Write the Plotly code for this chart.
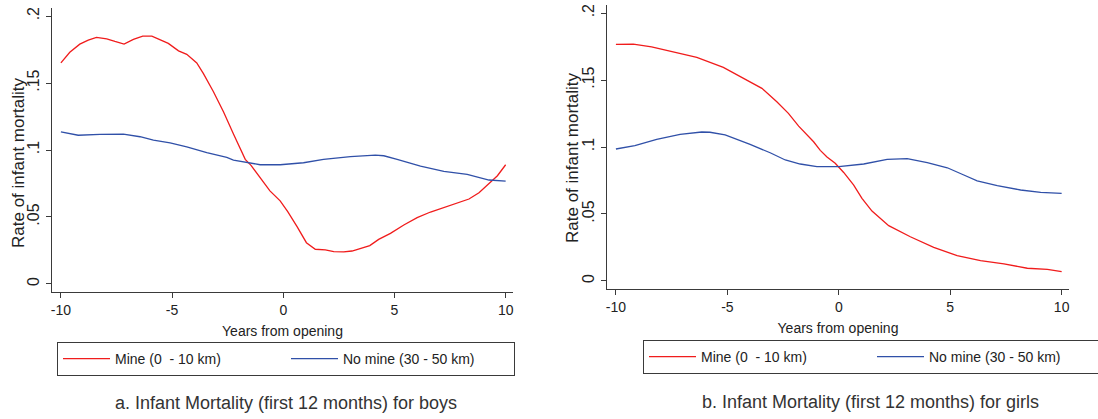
import plotly.graph_objects as go

# ---- data ----
boys_mine_x = [-10, -9.6, -9.15, -8.77, -8.4, -7.94, -7.57, -7.16, -6.74, -6.32, -5.91, -5.54, -5.17, -4.71,
               -4.34, -3.89, -3.59, -3.14, -2.69, -2.24, -1.94, -1.71, -1.45, -1.1, -0.6, -0.14, 0.2, 0.62,
               1.04, 1.44, 1.89, 2.27, 2.72, 3.09, 3.47, 3.89, 4.29, 4.82, 5.42, 6.02, 6.62, 7.22, 7.82,
               8.35, 8.8, 9.17, 9.63, 10]
boys_mine_y = [0.165, 0.173, 0.179, 0.182, 0.184, 0.183, 0.181, 0.179, 0.1826, 0.185, 0.185, 0.1826, 0.1796,
               0.174, 0.1714, 0.165, 0.157, 0.1435, 0.1286, 0.112, 0.101, 0.093, 0.0885, 0.081, 0.0695,
               0.062, 0.054, 0.0428, 0.0308, 0.0259, 0.0254, 0.0241, 0.0239, 0.0246, 0.0263, 0.0286,
               0.0333, 0.0378, 0.044, 0.0495, 0.0537, 0.0572, 0.0602, 0.0634, 0.0681, 0.0736, 0.0808, 0.089]

boys_nomine_x = [-10, -9.22, -8.24, -7.19, -6.44, -5.84, -5.09, -4.34, -3.44, -2.54, -2.24, -1.64, -1.04,
                 -0.14, 0.91, 1.81, 3.02, 4.14, 4.52, 5.12, 6.17, 7.22, 8.27, 9.25, 10]
boys_nomine_y = [0.1136, 0.111, 0.1117, 0.1119, 0.1099, 0.1074, 0.1054, 0.1024, 0.098, 0.0945, 0.0925,
                 0.0905, 0.089, 0.089, 0.0905, 0.093, 0.095, 0.0962, 0.0957, 0.093, 0.088, 0.084, 0.0818,
                 0.0776, 0.0768]

girls_mine_x = [-10, -9.22, -8.4, -7.42, -6.37, -5.18, -4.28, -3.45, -2.78, -2.26, -1.8, -1.13, -0.83, -0.53,
                -0.16, 0.22, 0.67, 1.04, 1.49, 2.24, 3.21, 4.26, 5.31, 6.36, 7.41, 8.46, 9.36, 10]
girls_mine_y = [0.1766, 0.1768, 0.1748, 0.171, 0.1669, 0.1594, 0.1512, 0.1438, 0.1338, 0.1251, 0.1156,
                0.1039, 0.0975, 0.0925, 0.0878, 0.081, 0.0716, 0.0617, 0.0522, 0.0413, 0.033, 0.0251,
                0.0189, 0.0151, 0.0127, 0.0095, 0.0087, 0.0069]

girls_nomine_x = [-10, -9.15, -8.17, -7.12, -6.15, -5.78, -5.1, -3.98, -3.08, -2.4, -1.73, -0.98, 0, 1.12,
                  2.17, 3.07, 3.97, 4.87, 5.61, 6.21, 7.11, 8.16, 9.06, 10]
girls_nomine_y = [0.0985, 0.101, 0.1057, 0.1094, 0.1112, 0.111, 0.109, 0.102, 0.0957, 0.0903, 0.0873,
                  0.0853, 0.0853, 0.0873, 0.0908, 0.0913, 0.0883, 0.0845, 0.0791, 0.0748, 0.0711, 0.0679,
                  0.0662, 0.0654]

y_tickvals = [0, 0.05, 0.1, 0.15, 0.2]
y_ticktext = ["0", ".05", ".1", ".15", ".2"]
x_tickvals = [-10, -5, 0, 5, 10]
x_ticktext = ["-10", "-5", "0", "5", "10"]

series_names = ["Mine (0  - 10 km)", "No mine (30 - 50 km)"]
x_title = "Years from opening"
y_title = "Rate of infant mortality"
captions = ["a. Infant Mortality (first 12 months) for boys",
            "b. Infant Mortality (first 12 months) for girls"]

RED = "#f01c1c"
BLUE = "#3050a8"
AX = "#3a3a3a"
TXT = "#222222"
FONT = "Arial, Liberation Sans, sans-serif"
W, H = 1098, 419

fig = go.Figure()

fig.add_trace(go.Scatter(x=boys_mine_x, y=boys_mine_y, mode="lines", name=series_names[0],
                         line=dict(color=RED, width=1.3), xaxis="x", yaxis="y", legend="legend"))
fig.add_trace(go.Scatter(x=boys_nomine_x, y=boys_nomine_y, mode="lines", name=series_names[1],
                         line=dict(color=BLUE, width=1.3), xaxis="x", yaxis="y", legend="legend"))
fig.add_trace(go.Scatter(x=girls_mine_x, y=girls_mine_y, mode="lines", name=series_names[0],
                         line=dict(color=RED, width=1.3), xaxis="x2", yaxis="y2", legend="legend2"))
fig.add_trace(go.Scatter(x=girls_nomine_x, y=girls_nomine_y, mode="lines", name=series_names[1],
                         line=dict(color=BLUE, width=1.3), xaxis="x2", yaxis="y2", legend="legend2"))

def xax(domain, anchor):
    return dict(domain=domain, anchor=anchor, range=[-10.4, 10.33], tickvals=x_tickvals, ticktext=x_ticktext,
                ticks="outside", ticklen=5, tickwidth=1.3, tickcolor=AX, showline=True, linecolor=AX,
                linewidth=1.3, showgrid=False, zeroline=False, tickfont=dict(size=14, color=TXT),
                title=dict(text=x_title, font=dict(size=14, color=TXT), standoff=9))

def yax(domain, anchor):
    return dict(domain=domain, anchor=anchor, range=[-0.006, 0.206], tickvals=y_tickvals, ticktext=y_ticktext,
                ticks="outside", ticklen=5, tickwidth=1.3, tickcolor=AX, showline=True, linecolor=AX,
                linewidth=1.3, showgrid=False, zeroline=False, tickangle=-90,
                tickfont=dict(size=16, color=TXT))

legend_common = dict(orientation="h", xanchor="left", yanchor="top", bordercolor=AX, borderwidth=1,
                     font=dict(size=14, color=TXT), entrywidth=166, itemwidth=47, bgcolor="white")

fig.update_layout(
    width=W, height=H,
    margin=dict(l=0, r=0, t=0, b=0, autoexpand=False),
    paper_bgcolor="white", plot_bgcolor="white",
    font=dict(family=FONT, color=TXT),
    xaxis=xax([52 / W, 513 / W], "y"),
    yaxis=yax([1 - 292 / H, 1 - 8 / H], "x"),
    xaxis2=xax([607 / W, 1069 / W], "y2"),
    yaxis2=yax([1 - 289 / H, 1 - 5 / H], "x2"),
    legend=dict(x=57 / W, y=1 - 342 / H, **legend_common),
    legend2=dict(x=643 / W, y=1 - 340 / H, **legend_common),
    showlegend=True,
)

fig.add_annotation(text=y_title, textangle=-90, x=18 / W, y=1 - 163 / H, xref="paper", yref="paper",
                   xanchor="center", yanchor="middle", showarrow=False, font=dict(size=17, color=TXT))
fig.add_annotation(text=y_title, textangle=-90, x=572 / W, y=1 - 158 / H, xref="paper", yref="paper",
                   xanchor="center", yanchor="middle", showarrow=False, font=dict(size=17, color=TXT))
fig.add_annotation(text=captions[0], x=286 / W, y=1 - 403 / H, xref="paper", yref="paper",
                   xanchor="center", yanchor="middle", showarrow=False, font=dict(size=18, color="#333333"))
fig.add_annotation(text=captions[1], x=870 / W, y=1 - 402 / H, xref="paper", yref="paper",
                   xanchor="center", yanchor="middle", showarrow=False, font=dict(size=18, color="#333333"))

fig.write_html("out.html", config={"displayModeBar": False},
               post_script="document.body.style.margin='0';")
